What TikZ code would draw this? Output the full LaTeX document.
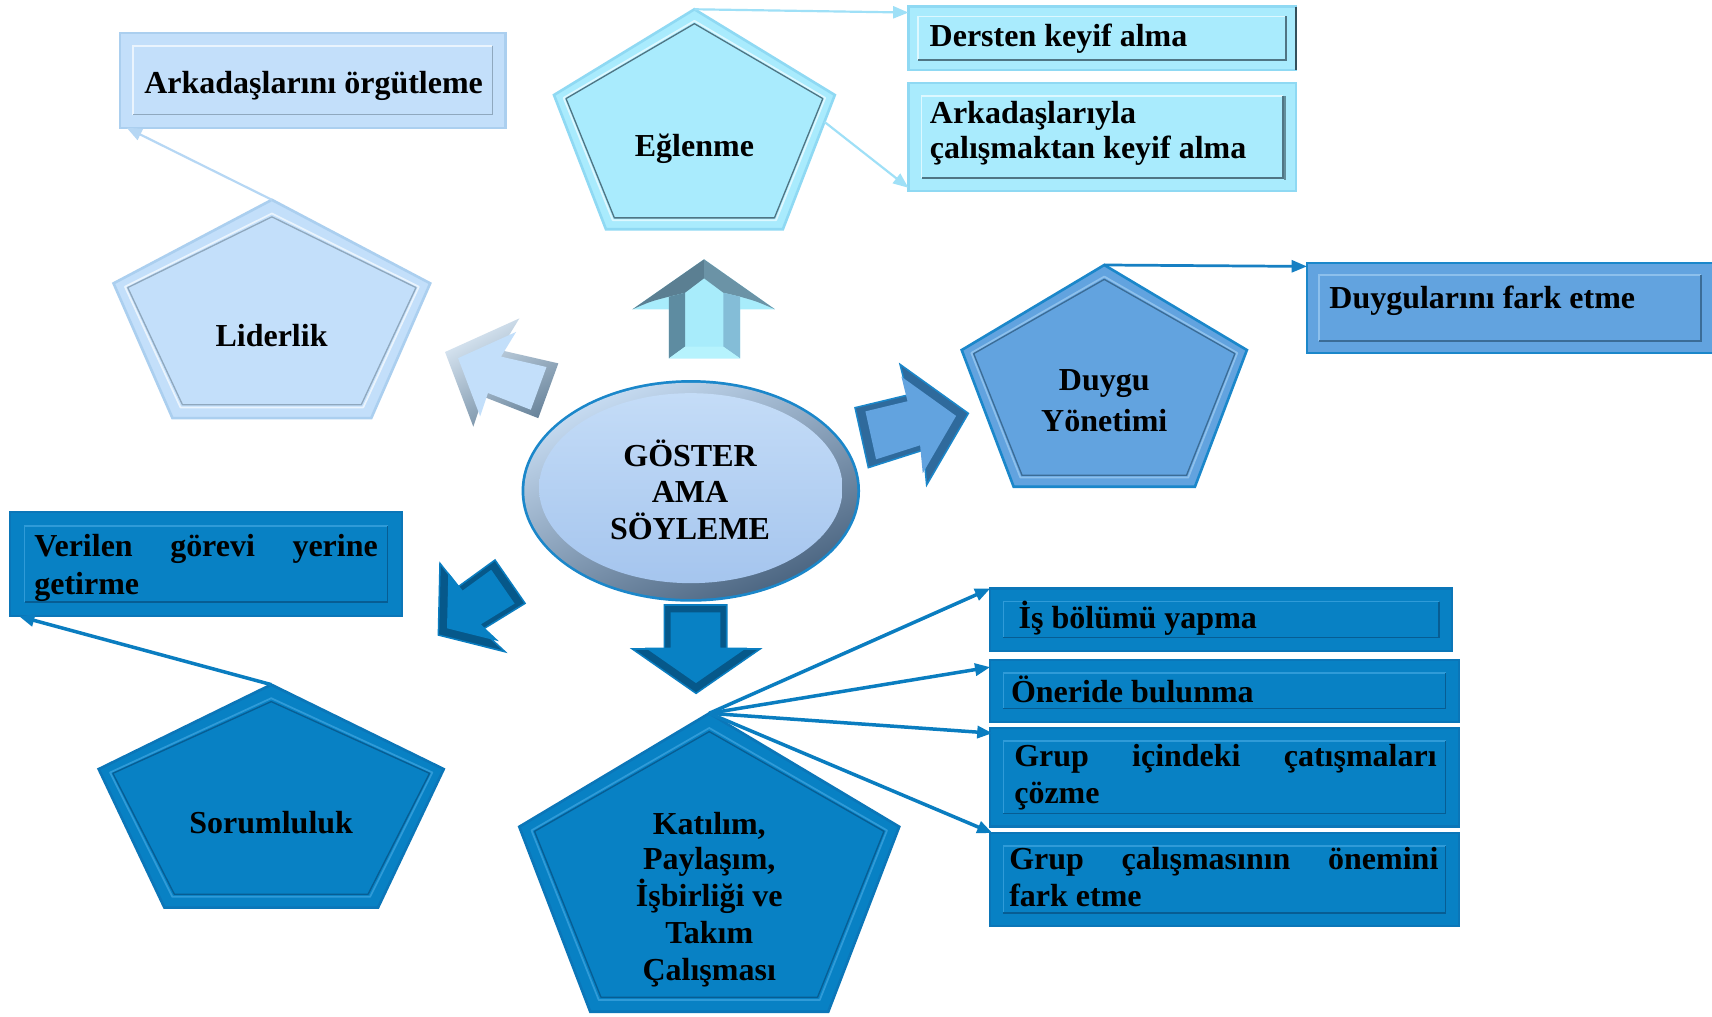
\documentclass[tikz,border=0pt]{standalone}
\usepackage{fontspec}
\setmainfont{Liberation Serif}
\usetikzlibrary{arrows.meta,calc}

\definecolor{lbFill}{HTML}{C3DFFA}
\definecolor{lbEdge}{HTML}{ABCFEF}
\definecolor{lbDark}{HTML}{8FA8BE}
\definecolor{lbHi}{HTML}{EAF4FD}
\definecolor{lbLine}{HTML}{B6D7F4}
\definecolor{cyFill}{HTML}{A9EBFD}
\definecolor{cyEdge}{HTML}{8FD9F3}
\definecolor{cyDark}{HTML}{4F7584}
\definecolor{cyHi}{HTML}{DDF8FF}
\definecolor{cyLine}{HTML}{9FE0F7}
\definecolor{cyShadow}{HTML}{33505C}
\definecolor{mbFill}{HTML}{62A3DF}
\definecolor{mbEdge}{HTML}{1B87CA}
\definecolor{mbDark}{HTML}{3B6C96}
\definecolor{mbHi}{HTML}{8DC0EC}
\definecolor{mbLine}{HTML}{1780C3}
\definecolor{dbFill}{HTML}{0881C4}
\definecolor{dbEdge}{HTML}{0B76B8}
\definecolor{dbDark}{HTML}{075D93}
\definecolor{dbHi}{HTML}{2F9BD8}
\definecolor{dbLine}{HTML}{0A7DC0}
\definecolor{ringTop}{HTML}{C8DDF3}
\definecolor{ringBot}{HTML}{4A6480}
\definecolor{elTop}{HTML}{C4DCF7}
\definecolor{elBot}{HTML}{A5C5EE}
\definecolor{arGrayTop}{HTML}{DCE9F5}
\definecolor{arGrayBot}{HTML}{6A859C}
\definecolor{upDarkL}{HTML}{5B7F92}
\definecolor{upDarkR}{HTML}{6B93A6}
\definecolor{upSideL}{HTML}{5E8CA1}
\definecolor{upSideR}{HTML}{84BDD7}
\definecolor{upFront}{HTML}{A8ECFB}
\definecolor{upBottom}{HTML}{B6F3FD}
\definecolor{mbArrowOut}{HTML}{2F6A9C}
\definecolor{dbArrowOut}{HTML}{06588A}

\tikzset{
  lbl/.style={font=\bfseries\fontsize{29.3}{33.6}\selectfont, inner sep=0pt, outer sep=0pt, text=black},
  conn/.style={-{Triangle[length=14pt,width=11pt]}},
  connLB/.style={conn, draw=lbLine, fill=lbLine, line width=2pt},
  connCY/.style={conn, draw=cyLine, fill=cyLine, line width=2pt},
  connMB/.style={conn, draw=mbLine, fill=mbLine, line width=2.5pt},
  connDB/.style={conn, draw=dbLine, fill=dbLine, line width=3.2pt},
}

% pentagon: name, cx, top, half width, side y, bottom half width, bottom y, colour prefix, inset
\newcommand\pent[9]{%
  \coordinate (#1-t) at (#2,#3);
  \coordinate (#1-l) at ({#2-#4},#5);
  \coordinate (#1-r) at ({#2+#4},#5);
  \coordinate (#1-bl) at ({#2-#6},#7);
  \coordinate (#1-br) at ({#2+#6},#7);
  \coordinate (#1-it) at (#2,{#3+1.2*#9});
  \coordinate (#1-il) at ({#2-#4+#9},{#5+0.3*#9});
  \coordinate (#1-ir) at ({#2+#4-#9},{#5+0.3*#9});
  \coordinate (#1-ibl) at ({#2-#6+0.7*#9},{#7-0.95*#9});
  \coordinate (#1-ibr) at ({#2+#6-0.7*#9},{#7-0.95*#9});
  \fill[#8Fill] (#1-t) -- (#1-r) -- (#1-br) -- (#1-bl) -- (#1-l) -- cycle;
  \draw[#8Hi, line width=1.6pt, line join=round]
    ($(#1-it)!0.2!(#1-t)$) -- ($(#1-ir)!0.2!(#1-r)$) -- ($(#1-ibr)!0.2!(#1-br)$) --
    ($(#1-ibl)!0.2!(#1-bl)$) -- ($(#1-il)!0.2!(#1-l)$) -- cycle;
  \draw[#8Dark, line width=1.2pt, line join=round]
    (#1-it) -- (#1-ir) -- (#1-ibr) -- (#1-ibl) -- (#1-il) -- cycle;
  \draw[#8Edge, line width=2.4pt, line join=miter]
    (#1-t) -- (#1-r) -- (#1-br) -- (#1-bl) -- (#1-l) -- cycle;
}

% bevelled box: name, x1, y1, x2, y2, colour prefix, inset
\newcommand\bevbox[7]{%
  \node[draw=#6Edge, fill=#6Fill, line width=2pt, inner sep=0pt, outer sep=0pt, anchor=north west,
        minimum width={(#4-#2)*1pt}, minimum height={(#5-#3)*1pt}] (#1) at (#2,#3) {};
  \draw[#6Hi, line width=1.6pt] ($(#1.south west)+(#7,{-#7})$) -- ($(#1.north west)+(#7,#7)$) -- ($(#1.north east)+(-#7,#7)$);
  \draw[#6Dark, line width=1.4pt] ($(#1.north east)+(-#7,#7)$) -- ($(#1.south east)+(-#7,-#7)$) -- ($(#1.south west)+(#7,-#7)$);
}

\newcommand\txt[5]{\node[lbl, anchor=#2] (#1) at (#3,#4) {#5};}

\begin{document}
\begin{tikzpicture}[x=1pt,y=-1pt]
\useasboundingbox (0,0) rectangle (1568,931);
\fill[white] (0,0) rectangle (1568,931);

% ---------- boxes ----------
\bevbox{ark}{110}{30}{463}{117}{lb}{12}
\bevbox{der}{832}{6}{1187}{64}{cy}{9}
\draw[cyShadow, line width=2.2pt] (der.north east) -- (der.south east);
\bevbox{arky}{832}{76}{1187}{175}{cy}{12}
\draw[cyShadow, line width=1.6pt, opacity=.6] ($(arky.north east)+(-10,12)$) -- ($(arky.south east)+(-10,-10)$);
\bevbox{duyb}{1197}{241}{1569}{323.5}{mb}{11}
\bevbox{ver}{9.5}{469}{368}{564.5}{db}{13}
\bevbox{is}{907}{539}{1330}{596}{db}{12}
\bevbox{on}{907}{604.5}{1336}{661}{db}{12}
\bevbox{gic}{907}{667}{1336}{757}{db}{12}
\bevbox{gcal}{907}{763}{1336}{848}{db}{12}

% ---------- pentagons ----------
\pent{egl}{636}{8.5}{128.6}{87}{81}{210}{cy}{11}
\pent{lid}{249}{183}{145}{259.5}{91}{383}{lb}{13}
\pent{duy}{1011.4}{242.7}{130.6}{320.6}{83}{445.8}{mb}{11}
\pent{sor}{248.4}{627}{158}{704.4}{97.8}{831.3}{db}{13}
\pent{kat}{649.6}{653.3}{174}{757.2}{109}{926.6}{db}{14}

% ---------- centre ellipse ----------
\coordinate (ctr) at (632.7,449.6);
\fill[mbEdge] (ctr) ellipse [x radius=155, y radius=101.5];
\shade[top color=ringTop, bottom color=ringBot, shading angle=25] (ctr) ellipse [x radius=152.5, y radius=99];
\shade[top color=elTop, bottom color=elBot] ($(ctr)+(0,-2.5)$) ellipse [x radius=139, y radius=87];

% ---------- block arrows ----------
% up (to Eglenme)
\fill[upFront] (644.8,237.5) -- (709.8,283.3) -- (677.8,283.3) -- (677.8,328.2) -- (612.7,328.2) -- (612.7,283.3) -- (579.2,283.3) -- cycle;
\fill[upDarkL] (644.8,237.5) -- (579.2,283.3) .. controls (596,276) .. (612.7,271.7) -- (627.4,268.1) -- (644.8,254.9) -- cycle;
\fill[upDarkR] (644.8,237.5) -- (709.8,283.3) .. controls (693,276) .. (677.8,271.7) -- (662.5,268.1) -- (644.8,254.9) -- cycle;
\fill[upSideL] (612.7,271.7) -- (627.4,268.1) -- (627.4,317.5) -- (612.7,328.2) -- cycle;
\fill[upSideR] (677.8,271.7) -- (662.5,268.1) -- (662.5,317.5) -- (677.8,328.2) -- cycle;
\fill[upBottom] (612.7,328.2) -- (627.4,317.5) -- (662.5,317.5) -- (677.8,328.2) -- cycle;

% up-left (to Liderlik)
\shade[top color=arGrayTop, bottom color=arGrayBot, shading angle=30]
  (511.4,332.8) -- (458,320.6) -- (475.7,291.6) -- (407.6,322.4) -- (433.5,390.8) -- (442.7,363.3) -- (493,383) -- cycle;
\begin{scope}[scale around={0.78:(462,348)}]
\fill[lbFill] (511.4,332.8) -- (458,320.6) -- (475.7,291.6) -- (407.6,322.4) -- (433.5,390.8) -- (442.7,363.3) -- (493,383) -- cycle;
\end{scope}

% right (to Duygu Yonetimi)
\filldraw[fill=mbArrowOut, draw=mbEdge, line width=1.4pt, line join=miter]
  (783.1,373.4) -- (831.3,361.8) -- (824.3,333.7) -- (886.9,378.6) -- (848.7,444.2) -- (845.7,412.2) -- (795.3,428.3) -- cycle;
\begin{scope}[scale around={0.8:(830.8,390.3)}]
\fill[mbFill] (783.1,373.4) -- (831.3,361.8) -- (824.3,333.7) -- (886.9,378.6) -- (848.7,444.2) -- (845.7,412.2) -- (795.3,428.3) -- cycle;
\end{scope}

% down-left (to Sorumluluk)
\filldraw[fill=dbArrowOut, draw=dbLine, line width=1.4pt, line join=miter]
  (453.4,512.9) -- (480.9,552.6) -- (441.2,577) -- (462.5,596.9) -- (401.5,581.6) -- (403,516) -- (419.8,537.3) -- cycle;
\begin{scope}[scale around={0.78:(437.5,553.5)}]
\fill[dbFill] (453.4,512.9) -- (480.9,552.6) -- (441.2,577) -- (462.5,596.9) -- (401.5,581.6) -- (403,516) -- (419.8,537.3) -- cycle;
\end{scope}

% down (to Katilim)
\filldraw[fill=dbArrowOut, draw=dbLine, line width=1.4pt, line join=miter]
  (608.5,554.1) -- (665.6,554.1) -- (665.6,594.4) -- (696.1,594.4) -- (637.5,635) -- (579.2,594.4) -- (608.5,594.4) -- cycle;
\begin{scope}[scale around={0.8:(637,588)}]
\fill[dbFill] (608.5,554.1) -- (665.6,554.1) -- (665.6,594.4) -- (696.1,594.4) -- (637.5,635) -- (579.2,594.4) -- (608.5,594.4) -- cycle;
\end{scope}

% ---------- connectors ----------
\draw[connLB] (lid-t) -- ($(ark.south west)+(6,0)$);
\draw[connCY] (egl-t) -- ($(der.north west)+(0,5.5)$);
\draw[connCY] ($(egl-r)!0.2!(egl-br)$) -- ($(arky.south west)+(0,-3)$);
\draw[connMB] (duy-t) -- ($(duyb.north west)+(0,3)$);
\draw[connDB] (sor-t) -- ($(ver.south west)+(8,0)$);
\draw[connDB] (kat-t) -- (is.north west);
\draw[connDB] (kat-t) -- ($(on.north west)+(0,6.5)$);
\draw[connDB] (kat-t) -- ($(gic.north west)+(2,4.5)$);
\draw[connDB] (kat-t) -- ($(gcal.north west)+(2,0)$);

% ---------- texts ----------
\txt{t-ark}{base west}{132.2}{85.5}{Arkadaşlarını örgütleme}
\txt{t-egl}{base}{636}{143.5}{Eğlenme}
\txt{t-der}{base west}{851.5}{42.7}{Dersten keyif alma}
\txt{t-arky1}{base west}{851.7}{113}{Arkadaşlarıyla}
\txt{t-arky2}{base west}{851.7}{145.5}{çalışmaktan keyif alma}
\txt{t-lid}{base}{248.7}{317.5}{Liderlik}
\txt{t-g1}{base}{632}{426.8}{GÖSTER}
\txt{t-g2}{base}{632}{460.4}{AMA}
\txt{t-g3}{base}{632}{494}{SÖYLEME}
\txt{t-duy1}{base}{1011.4}{357.2}{Duygu}
\txt{t-duy2}{base}{1011.4}{395.4}{Yönetimi}
\txt{t-duyb}{base west}{1217.6}{282.4}{Duygularını fark etme}
\txt{t-ver1}{base west}{31.5}{510}{\hbox to 314.5pt{Verilen\hfill görevi\hfill yerine}}
\txt{t-ver2}{base west}{31.5}{544.4}{getirme}
\txt{t-sor}{base}{248.4}{763.3}{Sorumluluk}
\txt{t-kat1}{base}{649.6}{763.9}{Katılım,}
\txt{t-kat2}{base}{649.6}{796.8}{Paylaşım,}
\txt{t-kat3}{base}{649.6}{830.4}{İşbirliği ve}
\txt{t-kat4}{base}{649.6}{863.9}{Takım}
\txt{t-kat5}{base}{649.6}{898}{Çalışması}
\txt{t-is}{base west}{933}{575.5}{İş bölümü yapma}
\txt{t-on}{base west}{926}{643.6}{Öneride bulunma}
\txt{t-gic1}{base west}{929}{702.2}{\hbox to 386.8pt{Grup\hfill içindeki\hfill çatışmaları}}
\txt{t-gic2}{base west}{929}{735.8}{çözme}
\txt{t-gcal1}{base west}{924.4}{796.8}{\hbox to 393pt{Grup\hfill çalışmasının\hfill önemini}}
\txt{t-gcal2}{base west}{924.4}{830.4}{fark etme}
\end{tikzpicture}
\end{document}
